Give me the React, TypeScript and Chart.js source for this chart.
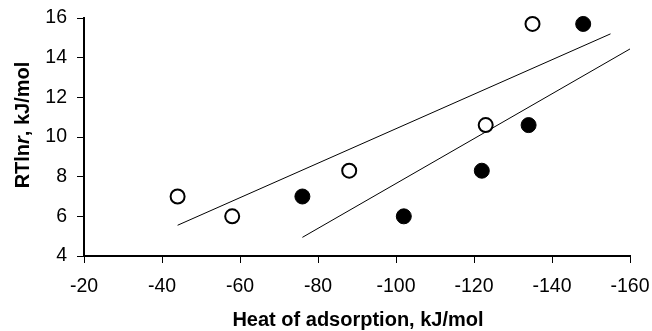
import React, { useEffect, useRef } from "react";
import { Chart, registerables } from "chart.js";

Chart.register(...registerables);

// Heat of adsorption (kJ/mol) and RTln r (kJ/mol)
const openX = [-44, -58, -88, -123, -135];
const openY = [7.0, 6.0, 8.3, 10.6, 15.7];
const filledX = [-76, -102, -122, -134, -148];
const filledY = [7.0, 6.0, 8.3, 10.6, 15.7];
// trend line end points
const openTrendX = [-44, -155];
const openTrendY = [5.55, 15.2];
const filledTrendX = [-76, -160];
const filledTrendY = [4.94, 14.44];

const xTicks = [-20, -40, -60, -80, -100, -120, -140, -160];
const yTicks = [4, 6, 8, 10, 12, 14, 16];

const FONT = "'Liberation Sans', Arial, sans-serif";

const toPts = (xs: number[], ys: number[]) => xs.map((x, i) => ({ x, y: ys[i] }));

const titlePlugin = {
  id: "titles",
  afterDraw(chart: any) {
    const { ctx } = chart;
    ctx.save();
    ctx.fillStyle = "#000";
    ctx.textBaseline = "alphabetic";
    // x title
    ctx.font = `bold 20px ${FONT}`;
    ctx.textAlign = "center";
    ctx.fillText("Heat of adsorption, kJ/mol", 358, 326);
    // y title with italic r
    const parts = [
      { t: "RTln", f: `bold 20px ${FONT}` },
      { t: "r", f: `italic bold 20px ${FONT}` },
      { t: ", kJ/mol", f: `bold 20px ${FONT}` },
    ];
    let total = 0;
    const widths = parts.map((p) => {
      ctx.font = p.f;
      const w = ctx.measureText(p.t).width;
      total += w;
      return w;
    });
    ctx.translate(29, 125);
    ctx.rotate(-Math.PI / 2);
    ctx.textAlign = "left";
    let cx = -total / 2;
    parts.forEach((p, i) => {
      ctx.font = p.f;
      ctx.fillText(p.t, cx, 0);
      cx += widths[i];
    });
    ctx.restore();
  },
};

export default function App() {
  const ref = useRef<HTMLCanvasElement>(null);
  useEffect(() => {
    if (!ref.current) return;
    const chart = new Chart(ref.current, {
      type: "scatter",
      data: {
        datasets: [
          {
            label: "open",
            data: toPts(openX, openY),
            pointRadius: 7,
            pointBorderWidth: 2,
            pointBackgroundColor: "#fff",
            pointBorderColor: "#000",
            showLine: false,
            clip: false,
          },
          {
            label: "filled",
            data: toPts(filledX, filledY),
            pointRadius: 7.5,
            pointBorderWidth: 1,
            pointBackgroundColor: "#000",
            pointBorderColor: "#000",
            showLine: false,
            clip: false,
          },
          {
            label: "open trend",
            data: toPts(openTrendX, openTrendY),
            showLine: true,
            pointRadius: 0,
            borderColor: "#000",
            borderWidth: 1,
            clip: false,
          },
          {
            label: "filled trend",
            data: toPts(filledTrendX, filledTrendY),
            showLine: true,
            pointRadius: 0,
            borderColor: "#000",
            borderWidth: 1,
            clip: false,
          },
        ],
      } as any,
      options: {
        animation: false,
        responsive: false,
        layout: { padding: { top: 18, right: 22, left: 0, bottom: 0 } },
        plugins: { legend: { display: false }, tooltip: { enabled: false } },
        scales: {
          x: {
            type: "linear",
            min: -160,
            max: -20,
            reverse: true,
            afterFit: (s: any) => {
              s.height = 75;
              s.paddingLeft = 0;
              s.paddingRight = 0;
            },
            afterBuildTicks: (s: any) => {
              s.ticks = xTicks.map((v) => ({ value: v }));
            },
            border: { display: true, color: "#000", width: 2 },
            grid: { drawOnChartArea: false, drawTicks: true, tickLength: 7, color: "#000", lineWidth: 1 },
            ticks: { color: "#000", font: { family: FONT, size: 19.5 }, padding: 12, maxRotation: 0 },
          },
          y: {
            type: "linear",
            min: 4,
            max: 16,
            afterFit: (s: any) => {
              s.width = 84;
              s.paddingTop = 0;
              s.paddingBottom = 0;
            },
            afterBuildTicks: (s: any) => {
              s.ticks = yTicks.map((v) => ({ value: v }));
            },
            border: { display: true, color: "#000", width: 2 },
            grid: { drawOnChartArea: false, drawTicks: true, tickLength: 7, color: "#000", lineWidth: 1 },
            ticks: { color: "#000", font: { family: FONT, size: 19.5 }, padding: 10 },
          },
        },
      } as any,
      plugins: [titlePlugin],
    });
    return () => chart.destroy();
  }, []);
  return (
    <div style={{ position: "fixed", left: 0, top: 0, width: 652, height: 331, background: "#fff" }}>
      <canvas ref={ref} width={652} height={331} />
    </div>
  );
}
